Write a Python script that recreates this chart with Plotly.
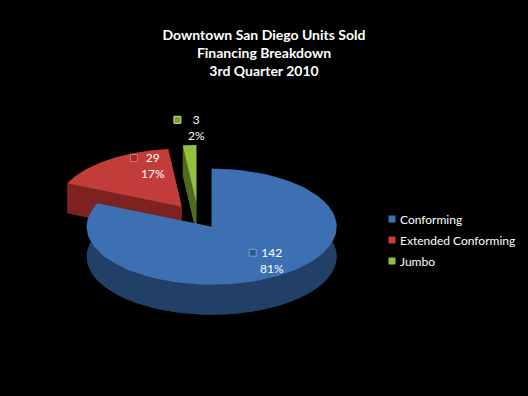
import numpy as np
import plotly.graph_objects as go

# ---- data ----
categories = ["Conforming", "Extended Conforming", "Jumbo"]
units = [142, 29, 3]
percent_labels = ["81%", "17%", "2%"]
title_lines = ["Downtown San Diego Units Sold", "Financing Breakdown", "3rd Quarter 2010"]

# ---- style ----
top_colors = ["#3D6FB3", "#C23D39", "#93BE3E"]
side_colors = ["#223F68", "#7E2220", "#50691F"]
key_fill = ["#2E5A94", "#A02C2A", "#7BA030"]
key_edge = ["#7F9FD0", "#D87070", "#C8E890"]
W, H = 528, 396
CX, CY = 198, 217      # pie centre (pixel space)
RX, RY = 125, 58       # ellipse radii
DEPTH = 30             # pie thickness
PULL = [0.2, 0.22, 0.24]
LABEL_F = [(0.88, 0.70), (0.39, 0.87), (0.0, 1.30)]
FONT = "Lato"
LEG_X, LEG_Y, LEG_DY = 392, 219, 21

total = sum(units)
fracs = [u / total for u in units]

fig = go.Figure()


def pt(cx, cy, th, dy=0.0):
    return cx + RX * np.sin(th), cy - RY * np.cos(th) + dy


def add_poly(xs, ys, color):
    fig.add_trace(go.Scatter(x=list(xs) + [xs[0]], y=list(ys) + [ys[0]], mode="lines",
                             fill="toself", fillcolor=color, line=dict(width=0, color=color),
                             hoverinfo="skip", showlegend=False))


slices = []
start = 0.0
for i, f in enumerate(fracs):
    a0 = start * 2 * np.pi
    a1 = (start + f) * 2 * np.pi
    mid = (a0 + a1) / 2
    cx = CX + PULL[i] * RX * np.sin(mid)
    cy = CY - PULL[i] * RY * np.cos(mid)
    slices.append((i, a0, a1, mid, cx, cy))
    start += f

# draw far slices first, blue (front) last
for i, a0, a1, mid, cx, cy in [slices[1], slices[2], slices[0]]:
    th = np.linspace(a0, a1, 120)
    tx, ty = pt(cx, cy, th)
    bx, by = pt(cx, cy, th, DEPTH)
    add_poly(np.r_[cx, bx], np.r_[cy + DEPTH, by], side_colors[i])
    for a in (a0, a1):
        ex, ey = pt(cx, cy, a)
        add_poly([cx, ex, ex, cx], [cy, ey, ey + DEPTH, cy + DEPTH], side_colors[i])
    add_poly(np.r_[tx, bx[::-1]], np.r_[ty, by[::-1]], side_colors[i])
    add_poly(np.r_[cx, tx], np.r_[cy, ty], top_colors[i])

# data labels
for i, a0, a1, mid, cx, cy in slices:
    fx, fy = LABEL_F[i]
    lx = cx + fx * RX * np.sin(mid)
    ly = cy - fy * RY * np.cos(mid)
    fig.add_annotation(x=lx, y=ly, text=f"{units[i]}<br>{percent_labels[i]}", showarrow=False,
                       font=dict(family=FONT, size=12, color="white"), align="center")
    fig.add_trace(go.Scatter(x=[lx - 19], y=[ly - 8], mode="markers",
                             marker=dict(symbol="square", size=7, color=key_fill[i],
                                         line=dict(width=1, color=key_edge[i])),
                             hoverinfo="skip", showlegend=False))

# legend (keys + texts)
for i, c in enumerate(categories):
    y = LEG_Y + i * LEG_DY
    fig.add_trace(go.Scatter(x=[LEG_X], y=[y], mode="markers",
                             marker=dict(symbol="square", size=7, color=top_colors[i]),
                             hoverinfo="skip", showlegend=False))
    fig.add_annotation(x=LEG_X + 6, y=y, text=c, showarrow=False, xanchor="left",
                       font=dict(family=FONT, size=12, color="white"))

fig.update_layout(
    width=W, height=H,
    margin=dict(l=0, r=0, t=0, b=0),
    paper_bgcolor="black", plot_bgcolor="black",
    xaxis=dict(range=[0, W], visible=False, fixedrange=True),
    yaxis=dict(range=[H, 0], visible=False, fixedrange=True),
    title=dict(text="<br>".join(f"<b>{t}</b>" for t in title_lines), x=0.5, xanchor="center",
               y=1 - 40 / H, yanchor="top", font=dict(family=FONT, size=14, color="white")),
    showlegend=False,
)

fig.write_html("out.html", config={"displayModeBar": False},
               post_script="document.body.style.margin='0';document.body.style.background='black';")
